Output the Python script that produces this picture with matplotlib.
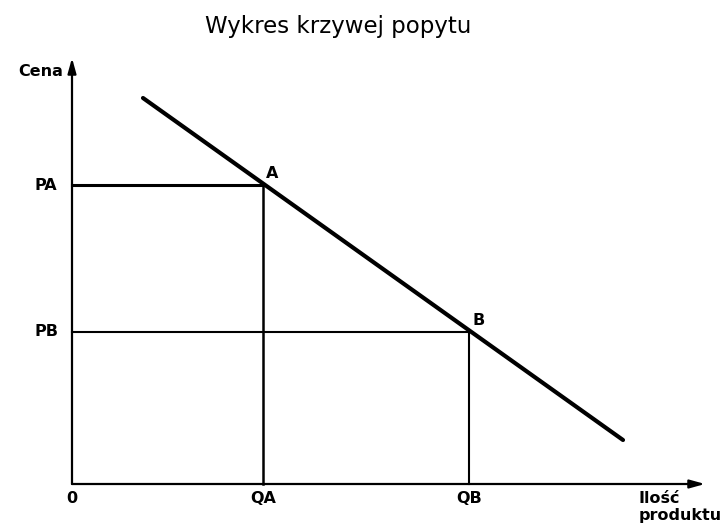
import matplotlib
matplotlib.use("Agg")
import matplotlib.pyplot as plt

# Data (arbitrary units: quantity / price)
title = "Wykres krzywej popytu"
demand_q = [71, 551]
demand_p = [386, 44]
point_names = ["A", "B"]
point_q = [191, 397]
point_p = [299, 152]
q_labels = ["QA", "QB"]
p_labels = ["PA", "PB"]
x_axis_label = "Ilość\nproduktu"
y_axis_label = "Cena"
x_max = 633
y_max = 426

W, H = 726, 531
fig = plt.figure(figsize=(W / 100, H / 100), dpi=100)
ax = fig.add_axes([0, 0, 1, 1])
ax.set_xlim(-72, W - 72)
ax.set_ylim(-(H - 484), 484)
ax.axis("off")

PX = 0.72  # points per pixel
FS = 11.5

# axes with arrows
ax.annotate("", xy=(x_max, 0), xytext=(0, 0),
            arrowprops=dict(arrowstyle="-|>,head_length=0.9,head_width=0.25",
                            color="black", lw=1.6, shrinkA=0, shrinkB=0))
ax.annotate("", xy=(0, y_max), xytext=(0, 0),
            arrowprops=dict(arrowstyle="-|>,head_length=0.9,head_width=0.25",
                            color="black", lw=1.6, shrinkA=0, shrinkB=0))

# demand curve
ax.plot(demand_q, demand_p, color="black", lw=3.0, solid_capstyle="round")

# guide lines
h_lw = [2.2, 1.5]
v_lw = [1.8, 1.5]
for i in range(len(point_q)):
    ax.plot([0, point_q[i]], [point_p[i], point_p[i]], color="black", lw=h_lw[i])
    ax.plot([point_q[i], point_q[i]], [0, point_p[i]], color="black", lw=v_lw[i])
    ax.annotate(point_names[i], xy=(point_q[i], point_p[i]), xytext=(3 * PX, 4 * PX),
                textcoords="offset points", ha="left", va="bottom",
                fontsize=FS, fontweight="bold")
    ax.annotate(p_labels[i], xy=(0, point_p[i]), xytext=(-26 * PX, 0),
                textcoords="offset points", ha="center", va="center",
                fontsize=FS, fontweight="bold")
    ax.annotate(q_labels[i], xy=(point_q[i], 0), xytext=(0, -7 * PX),
                textcoords="offset points", ha="center", va="top",
                fontsize=FS, fontweight="bold")

ax.annotate("0", xy=(0, 0), xytext=(0, -7 * PX), textcoords="offset points",
            ha="center", va="top", fontsize=FS, fontweight="bold")
ax.annotate(y_axis_label, xy=(0, y_max), xytext=(-9 * PX, -14 * PX), textcoords="offset points",
            ha="right", va="center", fontsize=FS, fontweight="bold")
ax.annotate(x_axis_label, xy=(x_max, 0), xytext=(-66 * PX, -7 * PX), textcoords="offset points",
            ha="left", va="top", fontsize=FS, fontweight="bold", linespacing=1.15)

fig.text(338 / W, 1 - 27 / H, title, ha="center", va="center", fontsize=16.5)

fig.savefig("out.png", dpi=100)
